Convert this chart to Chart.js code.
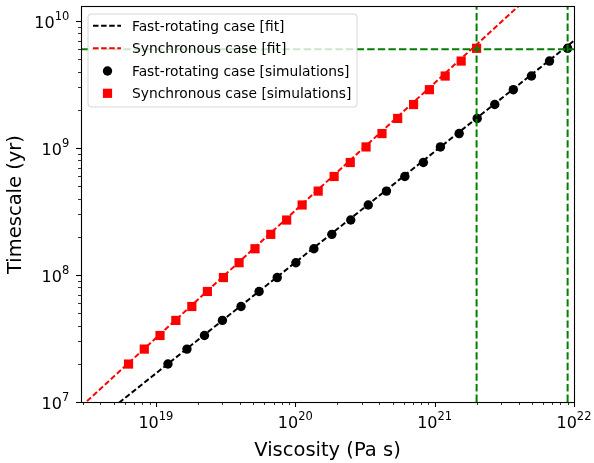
<!DOCTYPE html>
<html>
<head>
<meta charset="utf-8">
<script src="https://cdn.jsdelivr.net/npm/chart.js@4.4.1/dist/chart.umd.min.js"></script>
<style>
  html, body { margin: 0; padding: 0; background: #fff; }
  canvas { display: block; }
</style>
</head>
<body>
<canvas id="timescaleChart" width="594" height="463"></canvas>
<script>
// Simulated timescales (yr), shared by both rotation cases
const timescaleSim = [1.99e7, 2.61e7, 3.34e7, 4.39e7, 5.65e7, 7.42e7, 9.55e7, 1.25e8, 1.61e8, 2.09e8, 2.71e8, 3.56e8,
                      4.58e8, 5.97e8, 7.69e8, 1.02e9, 1.3e9, 1.71e9, 2.2e9, 2.88e9, 3.69e9, 4.84e9, 6.1e9];
// Viscosity (Pa s) of each simulation
const fastViscosity = [1.22e19, 1.67e19, 2.23e19, 3.0e19, 4.08e19, 5.5e19, 7.42e19, 1.01e20, 1.36e20, 1.83e20, 2.5e20, 3.34e20,
                       4.51e20, 6.11e20, 8.3e20, 1.1e21, 1.5e21, 2.02e21, 2.7e21, 3.67e21, 4.95e21, 6.67e21, 9.0e21];
const syncViscosity = [6.36e18, 8.25e18, 1.07e19, 1.39e19, 1.81e19, 2.34e19, 3.05e19, 3.95e19, 5.14e19, 6.67e19, 8.67e19, 1.12e20,
                       1.46e20, 1.9e20, 2.48e20, 3.22e20, 4.19e20, 5.43e20, 7.06e20, 9.17e20, 1.19e21, 1.55e21, 2.0e21];

// power-law fits (end points)
const fastFitViscosity = [2.9e18, 1e22];
const fastFitTimescale = [5.7e6, 7.0e9];
const syncFitViscosity = [2.9e18, 5e21];
const syncFitTimescale = [9.2e6, 1.64e10];

// age marker lines
const markViscosity = [2e21, 9e21];
const markTimescale = 6e9;

// axis limits and decade labels
const xMin = 2.9e18, xMax = 1e22;
const yMin = 1e7, yMax = 1.29e10;
const xTickExps = [19, 20, 21, 22];
const yTickExps = [7, 8, 9, 10];

const legendLabels = ['Fast-rotating case [fit]', 'Synchronous case [fit]',
                      'Fast-rotating case [simulations]', 'Synchronous case [simulations]'];

const FONT = "'DejaVu Sans', 'Liberation Sans', sans-serif";
const GREEN = '#008000';
const RED = '#ff0000';

const pts = (xs, ys) => xs.map((x, i) => ({ x: x, y: ys[i] }));

const fitLine = (color) => ({
    showLine: true, borderColor: color, borderWidth: 2, borderDash: [5.5, 2.6],
    pointRadius: 0, fill: false
});
const markLine = () => ({
    showLine: true, borderColor: GREEN, borderWidth: 2, borderDash: [7.4, 3.2],
    pointRadius: 0, fill: false
});

const datasets = [];
// green guide lines (top)
markViscosity.forEach(v => {
    datasets.push(Object.assign({ data: [{ x: v, y: yMin }, { x: v, y: yMax }] }, markLine()));
});
datasets.push(Object.assign({ data: [{ x: xMin, y: markTimescale }, { x: xMax, y: markTimescale }] }, markLine()));
// simulations
datasets.push({
    data: pts(fastViscosity, timescaleSim), showLine: false,
    pointStyle: 'circle', pointRadius: 4.7, pointBackgroundColor: '#000', pointBorderWidth: 0
});
datasets.push({
    data: pts(syncViscosity, timescaleSim), showLine: false,
    pointStyle: 'rect', pointRadius: 6.5, pointBackgroundColor: RED, pointBorderWidth: 0
});
// fits (bottom)
datasets.push(Object.assign({ data: pts(fastFitViscosity, fastFitTimescale) }, fitLine('#000')));
datasets.push(Object.assign({ data: pts(syncFitViscosity, syncFitTimescale) }, fitLine(RED)));

function drawPower(ctx, x, baseY, exp, align) {
    ctx.font = '16px ' + FONT;
    const wb = ctx.measureText('10').width;
    ctx.font = '11.5px ' + FONT;
    const ws = ctx.measureText(String(exp)).width;
    const start = align === 'center' ? x - (wb + ws) / 2 : x - (wb + ws);
    ctx.textAlign = 'left';
    ctx.textBaseline = 'alphabetic';
    ctx.font = '16px ' + FONT;
    ctx.fillText('10', start, baseY);
    ctx.font = '11.5px ' + FONT;
    ctx.fillText(String(exp), start + wb, baseY - 7.6);
}

const axesPlugin = {
    id: 'axesFrame',
    afterDraw(chart) {
        const ctx = chart.ctx;
        const area = chart.chartArea;
        const xs = chart.scales.x, ys = chart.scales.y;
        ctx.save();
        ctx.strokeStyle = '#000';
        ctx.fillStyle = '#000';

        // tick marks: decades long, intermediate short
        for (let e = Math.floor(Math.log10(xMin)); e <= Math.ceil(Math.log10(xMax)); e++) {
            for (let m = 1; m <= 9; m++) {
                const v = m * Math.pow(10, e);
                if (v < xMin * 0.999 || v > xMax * 1.001) continue;
                const px = Math.round(xs.getPixelForValue(v)) + 0.5;
                ctx.lineWidth = m === 1 ? 1.1 : 0.8;
                ctx.beginPath();
                ctx.moveTo(px, area.bottom);
                ctx.lineTo(px, area.bottom + (m === 1 ? 5 : 3));
                ctx.stroke();
            }
        }
        for (let e = Math.floor(Math.log10(yMin)); e <= Math.ceil(Math.log10(yMax)); e++) {
            for (let m = 1; m <= 9; m++) {
                const v = m * Math.pow(10, e);
                if (v < yMin * 0.999 || v > yMax * 1.001) continue;
                const py = Math.round(ys.getPixelForValue(v)) + 0.5;
                ctx.lineWidth = m === 1 ? 1.1 : 0.8;
                ctx.beginPath();
                ctx.moveTo(area.left, py);
                ctx.lineTo(area.left - (m === 1 ? 5 : 3), py);
                ctx.stroke();
            }
        }

        // decade labels
        xTickExps.forEach(e => {
            drawPower(ctx, xs.getPixelForValue(Math.pow(10, e)), area.bottom + 26, e, 'center');
        });
        yTickExps.forEach(e => {
            drawPower(ctx, area.left - 11.7, ys.getPixelForValue(Math.pow(10, e)) + 6.6, e, 'right');
        });

        // frame
        ctx.lineWidth = 1.1;
        const l = Math.floor(area.left) + 0.5, r = Math.floor(area.right) + 0.5;
        const t = Math.floor(area.top) - 0.5, b = Math.floor(area.bottom) + 0.5;
        ctx.strokeRect(l, t, r - l, b - t);

        // legend box
        const bx = 88, by = 14, bw = 269, bh = 93, rad = 3;
        ctx.beginPath();
        ctx.moveTo(bx + rad, by);
        ctx.arcTo(bx + bw, by, bx + bw, by + bh, rad);
        ctx.arcTo(bx + bw, by + bh, bx, by + bh, rad);
        ctx.arcTo(bx, by + bh, bx, by, rad);
        ctx.arcTo(bx, by, bx + bw, by, rad);
        ctx.closePath();
        ctx.fillStyle = 'rgba(255,255,255,0.8)';
        ctx.fill();
        ctx.strokeStyle = 'rgba(204,204,204,0.8)';
        ctx.lineWidth = 1;
        ctx.stroke();

        const rowY = [25.7, 48.3, 71, 93.3];
        // fit handles
        [['#000', rowY[0]], [RED, rowY[1]]].forEach(([c, y]) => {
            ctx.strokeStyle = c;
            ctx.lineWidth = 2;
            ctx.setLineDash([5.5, 2.6]);
            ctx.beginPath();
            ctx.moveTo(93, y);
            ctx.lineTo(121, y);
            ctx.stroke();
        });
        ctx.setLineDash([]);
        // marker handles
        ctx.fillStyle = '#000';
        ctx.beginPath();
        ctx.arc(107.5, rowY[2], 4.7, 0, Math.PI * 2);
        ctx.fill();
        ctx.fillStyle = RED;
        ctx.fillRect(107.5 - 4.6, rowY[3] - 4.6, 9.2, 9.2);

        ctx.fillStyle = '#000';
        ctx.font = '13.8px ' + FONT;
        ctx.textAlign = 'left';
        ctx.textBaseline = 'alphabetic';
        legendLabels.forEach((txt, i) => ctx.fillText(txt, 132, rowY[i] + 5));
        ctx.restore();
    }
};

const ctx = document.getElementById('timescaleChart').getContext('2d');
new Chart(ctx, {
    type: 'scatter',
    data: { datasets: datasets },
    options: {
        responsive: false,
        animation: false,
        events: [],
        layout: { padding: { left: 0, top: 7, right: 20, bottom: 0 } },
        plugins: {
            legend: { display: false },
            tooltip: { enabled: false }
        },
        scales: {
            x: {
                type: 'logarithmic', min: xMin, max: xMax,
                grid: { display: false, drawTicks: false },
                border: { display: false },
                ticks: { display: false },
                title: {
                    display: true, text: 'Viscosity (Pa s)', color: '#000',
                    font: { family: FONT, size: 19.5 }, padding: { top: 0, bottom: 0 }
                },
                afterFit: s => { s.height = 61; }
            },
            y: {
                type: 'logarithmic', min: yMin, max: yMax,
                grid: { display: false, drawTicks: false },
                border: { display: false },
                ticks: { display: false },
                title: {
                    display: true, text: 'Timescale (yr)', color: '#000',
                    font: { family: FONT, size: 19.5 }, padding: { top: 4, bottom: 0 }
                },
                afterFit: s => { s.width = 81; }
            }
        }
    },
    plugins: [axesPlugin]
});
</script>
</body>
</html>
